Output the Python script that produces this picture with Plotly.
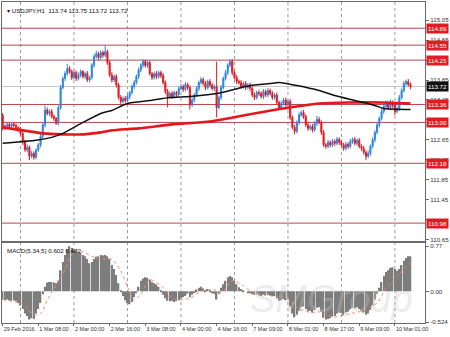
import plotly.graph_objects as go

# ---------------- data ----------------
open0 = 113.15
closes = [
    112.88, 112.93, 112.96, 112.92, 112.97, 112.94, 112.90, 112.86, 112.78, 112.60,
    112.45, 112.50, 112.32, 112.38, 112.30, 112.45, 112.55, 112.72, 112.95, 113.25,
    113.18, 113.22, 113.12, 113.08, 112.98, 113.30, 113.70, 113.88, 113.98, 114.08,
    114.02, 113.90, 114.00, 113.88, 113.95, 114.02, 113.92, 113.98, 113.85, 113.90,
    114.15, 114.32, 114.38, 114.30, 114.40, 114.35, 114.42, 114.20, 113.95, 113.85,
    113.92, 113.75, 113.50, 113.42, 113.48, 113.44, 113.52, 113.60, 113.72, 113.80,
    113.92, 114.05, 114.15, 114.22, 114.14, 114.20, 113.98, 113.90, 113.98, 113.92,
    114.00, 113.94, 113.80, 113.62, 113.52, 113.58, 113.52, 113.60, 113.56, 113.68,
    113.72, 113.66, 113.76, 113.70, 113.35, 113.45, 113.55, 113.68, 113.80, 113.86,
    113.78, 113.70, 113.82, 113.75, 113.68, 113.72, 113.30, 113.50, 113.70, 113.88,
    114.00, 114.15, 114.22, 114.00, 113.90, 113.82, 113.80, 113.72, 113.78, 113.70,
    113.75, 113.68, 113.55, 113.50, 113.60, 113.58, 113.52, 113.62, 113.55, 113.64,
    113.58, 113.50, 113.55, 113.40, 113.30, 113.38, 113.45, 113.36, 113.42, 113.10,
    112.90, 112.82, 113.00, 113.15, 113.20, 113.12, 112.95, 112.88, 112.92, 112.85,
    112.98, 113.06, 113.00, 112.80, 112.55, 112.52, 112.60, 112.55, 112.62, 112.58,
    112.66, 112.60, 112.55, 112.48, 112.56, 112.52, 112.62, 112.66, 112.58, 112.64,
    112.52, 112.48, 112.40, 112.32, 112.38, 112.52, 112.65, 112.80, 112.95, 113.08,
    113.22, 113.32, 113.38, 113.30, 113.40, 113.34, 113.22, 113.28, 113.50, 113.64,
    113.78, 113.82, 113.76, 113.72,
]
upper_wick = [
    0.04, 0.03, 0.04, 0.03, 0.04, 0.03, 0.04, 0.03, 0.05, 0.04,
    0.05, 0.06, 0.04, 0.05, 0.04, 0.03, 0.04, 0.05, 0.04, 0.09,
    0.05, 0.04, 0.05, 0.04, 0.03, 0.04, 0.05, 0.04, 0.05, 0.10,
    0.05, 0.04, 0.05, 0.04, 0.05, 0.04, 0.03, 0.04, 0.05, 0.04,
    0.04, 0.05, 0.06, 0.04, 0.05, 0.04, 0.12, 0.04, 0.05, 0.06,
    0.04, 0.05, 0.04, 0.05, 0.04, 0.05, 0.04, 0.03, 0.04, 0.05,
    0.04, 0.05, 0.04, 0.05, 0.04, 0.05, 0.04, 0.03, 0.04, 0.05,
    0.04, 0.04, 0.05, 0.04, 0.05, 0.04, 0.05, 0.04, 0.03, 0.04,
    0.05, 0.04, 0.05, 0.04, 0.04, 0.05, 0.04, 0.05, 0.04, 0.05,
    0.04, 0.05, 0.04, 0.05, 0.04, 0.04, 0.50, 0.04, 0.05, 0.04,
    0.05, 0.04, 0.04, 0.05, 0.04, 0.05, 0.04, 0.05, 0.04, 0.05,
    0.04, 0.05, 0.04, 0.05, 0.04, 0.05, 0.04, 0.05, 0.04, 0.05,
    0.04, 0.05, 0.04, 0.05, 0.04, 0.05, 0.04, 0.05, 0.04, 0.05,
    0.04, 0.05, 0.04, 0.05, 0.04, 0.05, 0.04, 0.05, 0.04, 0.05,
    0.04, 0.07, 0.05, 0.04, 0.05, 0.04, 0.05, 0.04, 0.05, 0.04,
    0.05, 0.04, 0.05, 0.04, 0.05, 0.04, 0.05, 0.04, 0.05, 0.04,
    0.05, 0.04, 0.05, 0.04, 0.05, 0.04, 0.05, 0.04, 0.05, 0.04,
    0.05, 0.04, 0.06, 0.05, 0.06, 0.04, 0.05, 0.04, 0.05, 0.04,
    0.05, 0.04, 0.05, 0.04,
]
lower_wick = [
    0.04, 0.04, 0.03, 0.04, 0.03, 0.04, 0.04, 0.05, 0.04, 0.05,
    0.04, 0.05, 0.08, 0.04, 0.05, 0.04, 0.04, 0.05, 0.04, 0.05,
    0.04, 0.05, 0.04, 0.05, 0.03, 0.04, 0.05, 0.04, 0.05, 0.04,
    0.04, 0.05, 0.04, 0.05, 0.04, 0.05, 0.04, 0.05, 0.04, 0.05,
    0.04, 0.05, 0.04, 0.05, 0.04, 0.05, 0.04, 0.05, 0.04, 0.05,
    0.04, 0.05, 0.04, 0.08, 0.04, 0.05, 0.04, 0.05, 0.04, 0.05,
    0.04, 0.05, 0.04, 0.05, 0.04, 0.05, 0.04, 0.05, 0.04, 0.05,
    0.04, 0.05, 0.04, 0.05, 0.22, 0.04, 0.05, 0.04, 0.05, 0.04,
    0.04, 0.05, 0.04, 0.05, 0.09, 0.04, 0.05, 0.04, 0.05, 0.04,
    0.04, 0.05, 0.04, 0.05, 0.04, 0.05, 0.20, 0.04, 0.05, 0.04,
    0.04, 0.05, 0.04, 0.05, 0.04, 0.05, 0.04, 0.05, 0.04, 0.05,
    0.04, 0.05, 0.04, 0.05, 0.04, 0.05, 0.04, 0.05, 0.04, 0.05,
    0.04, 0.05, 0.04, 0.05, 0.04, 0.05, 0.04, 0.05, 0.04, 0.05,
    0.04, 0.06, 0.04, 0.05, 0.04, 0.05, 0.04, 0.05, 0.04, 0.05,
    0.04, 0.05, 0.04, 0.05, 0.04, 0.05, 0.04, 0.05, 0.04, 0.05,
    0.04, 0.05, 0.04, 0.05, 0.04, 0.05, 0.04, 0.05, 0.04, 0.05,
    0.04, 0.05, 0.04, 0.08, 0.04, 0.05, 0.04, 0.05, 0.04, 0.05,
    0.04, 0.05, 0.04, 0.05, 0.04, 0.05, 0.08, 0.04, 0.05, 0.04,
    0.04, 0.05, 0.04, 0.05,
]
macd_hist = [
    -0.14, -0.15, -0.14, -0.15, -0.16, -0.15,
    -0.17, -0.20, -0.24,
    -0.30, -0.38, -0.42, -0.48,
    -0.46, -0.47,
    -0.38, -0.30, -0.20,
    -0.05, 0.08,
    0.15, 0.16, 0.16, 0.15, 0.14, 0.18,
    0.36, 0.50, 0.62,
    0.72, 0.77, 0.74,
    0.70, 0.68, 0.66, 0.66, 0.62, 0.60, 0.55,
    0.48,
    0.50, 0.55, 0.59, 0.60, 0.62, 0.61,
    0.62, 0.60, 0.55,
    0.45, 0.38, 0.28, 0.14, 0.02,
    -0.08, -0.15, -0.20, -0.22, -0.18,
    -0.10, -0.02, 0.08, 0.18,
    0.22, 0.24, 0.23, 0.20,
    0.16, 0.14, 0.12, 0.08,
    0.02, -0.06, -0.12, -0.16, -0.17,
    -0.16, -0.18, -0.17, -0.15, -0.12,
    -0.10, -0.08, -0.04, -0.10, -0.06,
    -0.02, 0.03, 0.06, 0.08,
    0.05, 0.02, 0.04, 0.01, -0.02, -0.04,
    -0.14,
    -0.04, 0.06, 0.12, 0.18, 0.24, 0.26,
    0.24, 0.18, 0.12, 0.07,
    0.04, 0.02, 0.00, -0.02,
    -0.03, -0.05, -0.06, -0.05, -0.07, -0.08, -0.06, -0.07, -0.06, -0.08,
    -0.09, -0.08, -0.12, -0.16, -0.15, -0.13, -0.15, -0.14,
    -0.26, -0.38, -0.44, -0.40, -0.33,
    -0.27, -0.26, -0.30, -0.34, -0.33, -0.36,
    -0.32, -0.28, -0.27,
    -0.35, -0.45, -0.48, -0.47, -0.46,
    -0.43, -0.42, -0.38, -0.36, -0.37, -0.40,
    -0.36, -0.35, -0.31, -0.28, -0.29, -0.27,
    -0.30, -0.33, -0.36, -0.40, -0.38, -0.32,
    -0.24, -0.14, -0.04, 0.06,
    0.16, 0.26, 0.33,
    0.36, 0.40, 0.41, 0.38,
    0.35, 0.38,
    0.45, 0.52, 0.57, 0.60, 0.60,
]
signal_idx = [0, 9, 14, 17, 20, 23, 27, 31, 34, 40, 44, 49, 53, 56, 59, 62, 66, 71, 77, 84,
              89, 95, 98, 103, 108, 112, 120, 128, 132, 138, 144, 148, 156, 163, 168, 172, 178, 183]
signal_val = [-0.14, -0.22, -0.40, -0.38, -0.15, 0.05, 0.30, 0.62, 0.70, 0.60, 0.55, 0.55, 0.35,
              0.08, -0.15, -0.05, 0.20, 0.10, -0.14, -0.12, 0.00, 0.03, -0.03, 0.18, 0.10, -0.02,
              -0.07, -0.12, -0.28, -0.36, -0.35, -0.44, -0.38, -0.32, -0.20, 0.05, 0.30, 0.48]
ma_black_idx = [0, 15, 22, 27, 36, 44, 49, 56, 66, 75, 84, 96, 102, 111, 120, 124, 132, 142, 149, 158, 167, 171, 183]
ma_black_val = [112.58, 112.64, 112.70, 112.78, 113.00, 113.18, 113.24, 113.38, 113.44, 113.50, 113.52,
                113.58, 113.64, 113.74, 113.78, 113.80, 113.74, 113.64, 113.54, 113.44, 113.34, 113.28, 113.26]
ma_red_idx = [0, 9, 18, 27, 36, 44, 49, 61, 76, 93, 108, 123, 132, 142, 155, 170, 183]
ma_red_val = [112.90, 112.84, 112.78, 112.76, 112.76, 112.80, 112.84, 112.88, 112.96, 113.02, 113.14,
              113.26, 113.32, 113.38, 113.40, 113.40, 113.38]
levels = [114.89, 114.55, 114.25, 113.36, 113.00, 112.18, 110.98]
level_labels = ["114.89", "114.55", "114.25", "113.36", "113.00", "112.18", "110.98"]
bid_price = 113.72
price_ticks = [115.05, 114.65, 114.25, 113.85, 113.45, 113.05, 112.65, 112.25, 111.85, 111.45, 111.05, 110.65]
# tick texts that sit under a level label are hidden in the reference
price_tick_text = ["115.05", "114.65", "", "113.85", "113.45", "", "112.65", "112.25", "111.85", "111.45", "", "110.65"]
macd_ticks = [0.77, 0.00, -0.524]
macd_tick_text = ["0.77", "0.00", "-0.524"]
time_tick_idx = [0, 16, 32, 48, 64, 80, 96, 112, 128, 144, 160, 176]
time_tick_labels = ["29 Feb 2016", "1 Mar 08:00", "2 Mar 00:00", "2 Mar 16:00", "3 Mar 08:00",
                    "4 Mar 00:00", "4 Mar 16:00", "7 Mar 09:00", "8 Mar 01:00", "8 Mar 17:00",
                    "9 Mar 09:00", "10 Mar 01:00"]
grid_idx = [8, 32, 56, 80, 104, 128, 152, 176]

# ---------------- derived ----------------
n = min(len(closes), len(upper_wick), len(lower_wick))
idx = list(range(n))
opens = [open0] + closes[:n - 1]
highs = [max(o, c) + u for o, c, u in zip(opens, closes[:n], upper_wick)]
lows = [min(o, c) - l for o, c, l in zip(opens, closes[:n], lower_wick)]

FONT = "Liberation Sans, Arial, sans-serif"
FS = 6.2
FS_X = 5.5
BLUE = "#2f86dc"
RED = "#e21b22"
FRAME = "#6a6a6a"

fig = go.Figure()
fig.add_trace(go.Candlestick(
    x=idx, open=opens, high=highs, low=lows, close=closes[:n],
    increasing=dict(line=dict(color=BLUE, width=1), fillcolor=BLUE),
    decreasing=dict(line=dict(color=RED, width=1), fillcolor=RED),
    whiskerwidth=0, xaxis="x", yaxis="y", showlegend=False, hoverinfo="skip"))
fig.add_trace(go.Scatter(x=ma_red_idx, y=ma_red_val, mode="lines",
                         line=dict(color="#e8151b", width=2.6, shape="spline", smoothing=0.6),
                         xaxis="x", yaxis="y", showlegend=False, hoverinfo="skip"))
fig.add_trace(go.Scatter(x=ma_black_idx, y=ma_black_val, mode="lines",
                         line=dict(color="#111111", width=1.5, shape="spline", smoothing=0.6),
                         xaxis="x", yaxis="y", showlegend=False, hoverinfo="skip"))
m = min(len(macd_hist), n)
fig.add_trace(go.Bar(x=idx[:m], y=macd_hist[:m], marker=dict(color="#7d7d7d", line=dict(width=0)),
                     xaxis="x2", yaxis="y2", showlegend=False, hoverinfo="skip"))
fig.add_trace(go.Scatter(x=signal_idx, y=signal_val, mode="lines",
                         line=dict(color="#f08a7a", width=1, dash="dot", shape="spline", smoothing=0.6),
                         xaxis="x2", yaxis="y2", showlegend=False, hoverinfo="skip"))

shapes = []
for g in grid_idx:
    shapes.append(dict(type="line", xref="x", yref="paper", x0=g, x1=g, y0=0, y1=1,
                       line=dict(color="#9a9a9a", width=1, dash="dot"), layer="below"))
for lv in levels:
    shapes.append(dict(type="line", xref="paper", yref="y", x0=0, x1=1, y0=lv, y1=lv,
                       line=dict(color="#b4474a", width=1), layer="below"))
shapes.append(dict(type="line", xref="paper", yref="y", x0=0, x1=1, y0=bid_price, y1=bid_price,
                   line=dict(color="#c8c8c8", width=1), layer="below"))

annotations = []
for lv, lab in zip(levels, level_labels):
    annotations.append(dict(xref="paper", yref="y", x=1, y=lv, xanchor="left", yanchor="middle",
                            text=lab, showarrow=False, bgcolor=RED, xshift=1, borderpad=1,
                            font=dict(family=FONT, size=FS, color="white")))
annotations.append(dict(xref="paper", yref="y", x=1, y=bid_price, xanchor="left", yanchor="middle",
                        text=f"{bid_price:.2f}", showarrow=False, bgcolor="#111111", xshift=1, borderpad=1,
                        font=dict(family=FONT, size=FS, color="white")))
annotations.append(dict(xref="paper", yref="paper", x=0, y=1, xanchor="left", yanchor="top",
                        text="▾ USDJPY,H1  113.74 113.75 113.72 113.72", showarrow=False,
                        xshift=3, yshift=-3, font=dict(family=FONT, size=FS, color="#111111")))
annotations.append(dict(xref="paper", yref="paper", x=0, y=0.2484, xanchor="left", yanchor="top",
                        text="MACD(5,34,5) 0.602 0.482", showarrow=False,
                        xshift=3, yshift=-2, font=dict(family=FONT, size=FS, color="#111111")))
annotations.append(dict(xref="paper", yref="paper", x=0.78, y=0.075, xanchor="center", yanchor="middle",
                        text="<i>SMGroup</i>", showarrow=False,
                        font=dict(family="Liberation Sans, Arial", size=38, color="rgba(200,200,200,0.35)")))

axis_common = dict(showgrid=False, zeroline=False, showline=True, mirror=True,
                   linecolor=FRAME, linewidth=1)
fig.update_layout(
    width=450, height=337,
    margin=dict(l=1, r=22, t=1, b=14),
    paper_bgcolor="white", plot_bgcolor="white",
    bargap=0.35,
    shapes=shapes, annotations=annotations,
    xaxis=dict(domain=[0, 1], range=[-0.3, 189.5], anchor="y", showticklabels=False,
               rangeslider=dict(visible=False), ticks="", **axis_common),
    yaxis=dict(domain=[0.2547, 1], range=[110.616, 115.416], side="right", anchor="x",
               tickvals=price_ticks, ticktext=price_tick_text,
               ticks="outside", ticklen=3, tickcolor=FRAME,
               tickfont=dict(family=FONT, size=FS, color="#333333"), **axis_common),
    xaxis2=dict(domain=[0, 1], range=[-0.3, 189.5], anchor="y2", matches="x",
                tickvals=time_tick_idx, ticktext=time_tick_labels, ticklabelposition="outside right",
                tickangle=0, automargin=False,
                ticks="outside", ticklen=2, tickcolor=FRAME,
                tickfont=dict(family=FONT, size=FS_X, color="#333333"), **axis_common),
    yaxis2=dict(domain=[0, 0.2484], range=[-0.54, 0.82], side="right", anchor="x2",
                tickvals=macd_ticks, ticktext=macd_tick_text,
                ticks="outside", ticklen=3, tickcolor=FRAME,
                tickfont=dict(family=FONT, size=FS, color="#333333"), **axis_common),
)

fig.write_html("out.html")
